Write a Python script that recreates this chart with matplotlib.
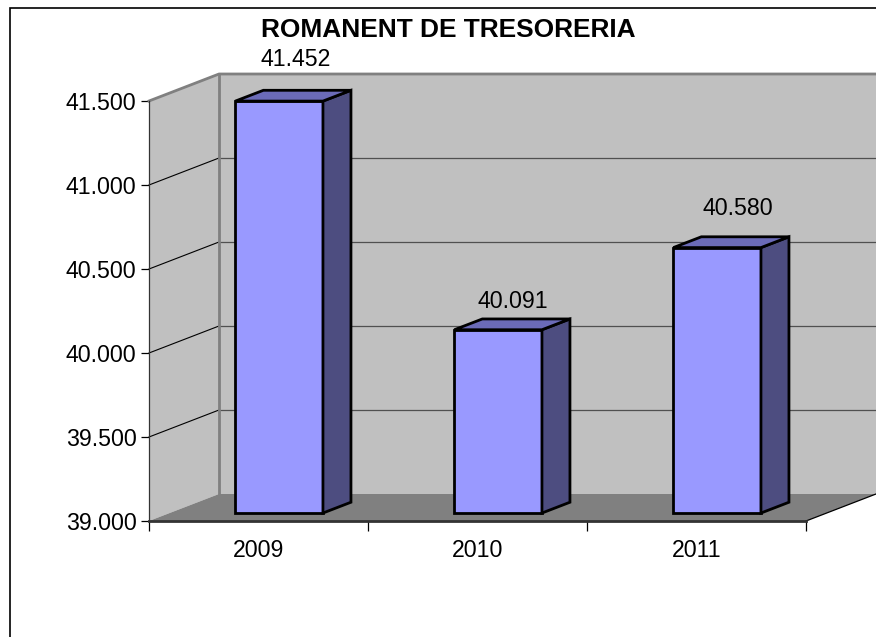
import matplotlib
matplotlib.use('Agg')
import matplotlib.pyplot as plt
from matplotlib.patches import Polygon, Rectangle
from matplotlib.ticker import FuncFormatter

W, H = 876, 637

title = 'ROMANENT DE TRESORERIA'
years = ['2009', '2010', '2011']
values = [41452, 40091, 40580]
value_labels = ['41.452', '40.091', '40.580']
y_ticks = [39000, 39500, 40000, 40500, 41000, 41500]

plt.rcParams['font.family'] = ['Liberation Sans', 'DejaVu Sans']

# px positions of the front plane of the 3d box
X0, X1 = 149, 806
Y0, Y1 = 521, 101
DEPTH_X, DEPTH_Y = 70, 27
YMIN, YMAX = 39000, 41500
FONT = 16.7


def proj(x, v, d=0.0):
    # oblique projection: d=0 is the front plane, d=1 the back wall
    return (x + d * DEPTH_X * 3 / (X1 - X0),
            v + d * DEPTH_Y * (YMAX - YMIN) / (Y0 - Y1))


def poly(ax, pts, **kw):
    kw.setdefault('linewidth', 0)
    kw.setdefault('clip_on', False)
    ax.add_patch(Polygon(pts, closed=True, **kw))


fig = plt.figure(figsize=(W / 100, H / 100), dpi=100)
fig.patch.set_facecolor('white')
ax = fig.add_axes([X0 / W, 1 - Y0 / H, (X1 - X0) / W, (Y0 - Y1) / H])
ax.set_xlim(0, 3)
ax.set_ylim(YMIN, YMAX)
ax.patch.set_visible(False)

# outer chart frame, cut by the image edge on two sides
fig.add_artist(Rectangle((10 / W, -0.05), 1.05, 1.05 - 7.5 / H, transform=fig.transFigure,
                         fill=False, edgecolor='black', linewidth=1.2, zorder=0))

# walls and floor
poly(ax, [proj(0, YMIN, 1), proj(3, YMIN, 1), proj(3, YMAX, 1), proj(0, YMAX, 1)],
     facecolor='#c0c0c0', zorder=1)
poly(ax, [proj(0, YMIN), proj(0, YMIN, 1), proj(0, YMAX, 1), proj(0, YMAX)],
     facecolor='#c0c0c0', zorder=1)
poly(ax, [proj(0, YMIN), proj(0, YMIN, 1), proj(3, YMIN, 1), proj(3, YMIN)],
     facecolor='#808080', zorder=1)

# gridlines
for t in y_ticks[1:-1]:
    a, b, c = proj(0, t), proj(0, t, 1), proj(3, t, 1)
    ax.plot([a[0], b[0]], [a[1], b[1]], color='black', lw=0.8, clip_on=False, zorder=2)
    ax.plot([b[0], c[0]], [b[1], c[1]], color='#505050', lw=0.9, clip_on=False, zorder=2)

# wall outlines
a, b, c, e = proj(0, YMAX), proj(0, YMAX, 1), proj(3, YMAX, 1), proj(0, YMIN, 1)
ax.plot([a[0], b[0], c[0]], [a[1], b[1], c[1]], color='#808080', lw=2, clip_on=False, zorder=2)
ax.plot([b[0], e[0]], [b[1], e[1]], color='#808080', lw=2, clip_on=False, zorder=2)
a, b = proj(3, YMIN), proj(3, YMIN, 1)
ax.plot([a[0], b[0]], [a[1], b[1]], color='black', lw=0.9, clip_on=False, zorder=2)

# bars
BAR_W = 0.4
D_FRONT, D_BACK = 0.295, 0.695
label_dx = [17, 15, 21]
label_dy = [42, 28, 39]
for i, v in enumerate(values):
    x0 = i + 0.5 - BAR_W / 2
    x1 = x0 + BAR_W
    style = dict(edgecolor='black', linewidth=2, joinstyle='miter', zorder=3)
    poly(ax, [proj(x0, YMIN, D_FRONT), proj(x1, YMIN, D_FRONT), proj(x1, v, D_FRONT), proj(x0, v, D_FRONT)],
         facecolor='#9999ff', **style)
    poly(ax, [proj(x1, YMIN, D_FRONT), proj(x1, YMIN, D_BACK), proj(x1, v, D_BACK), proj(x1, v, D_FRONT)],
         facecolor='#4d4d80', **style)
    poly(ax, [proj(x0, v, D_FRONT), proj(x1, v, D_FRONT), proj(x1, v, D_BACK), proj(x0, v, D_BACK)],
         facecolor='#6b6bb8', **style)
    ax.annotate(value_labels[i], xy=proj((x0 + x1) / 2, v, D_FRONT), xytext=(label_dx[i], label_dy[i]),
                textcoords='offset pixels', ha='center', va='center', fontsize=FONT,
                annotation_clip=False, zorder=4)

# axes
for s in ['top', 'right']:
    ax.spines[s].set_visible(False)
ax.spines['left'].set_linewidth(0.9)
ax.spines['left'].set_color('#333333')
ax.spines['bottom'].set_linewidth(2)
ax.spines['bottom'].set_color('#333333')
ax.spines['bottom'].set_zorder(5)

ax.set_yticks(y_ticks)
ax.yaxis.set_major_formatter(FuncFormatter(lambda v, p: f'{v:,.0f}'.replace(',', '.')))
ax.tick_params(axis='y', length=6, width=0.9, pad=3, labelsize=FONT)
ax.set_xticks([0, 1, 2, 3])
ax.set_xticklabels([])
ax.tick_params(axis='x', which='major', length=7, width=0.9)
ax.set_xticks([0.5, 1.5, 2.5], minor=True)
ax.set_xticklabels(years, minor=True)
ax.tick_params(axis='x', which='minor', length=0, pad=13, labelsize=FONT)

fig.text(448 / W, 1 - 30 / H, title, ha='center', va='center', fontsize=18.9, fontweight='bold')

fig.savefig('out.png', dpi=100)
